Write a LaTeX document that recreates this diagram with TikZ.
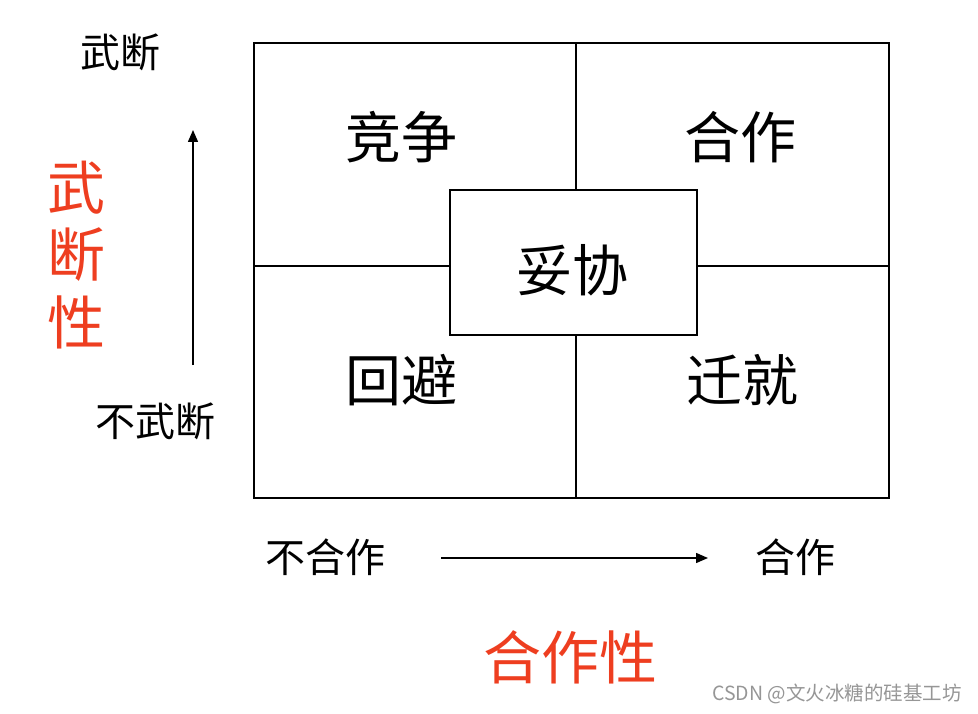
\documentclass[tikz,border=0pt]{standalone}
\usepackage{fontspec}
\newfontfamily\cjk{Noto Sans CJK SC}
\usetikzlibrary{arrows.meta}
\definecolor{redlab}{RGB}{238,62,32}
\definecolor{wm}{RGB}{150,150,150}
\tikzset{
  box/.style={draw=black, line width=1.6pt},
  divline/.style={draw=black, line width=1.4pt},
  big/.style={font=\cjk\fontsize{56}{64}\selectfont, inner sep=0pt},
  side/.style={font=\cjk\fontsize{40}{46}\selectfont, inner sep=0pt},
  redt/.style={font=\cjk\fontsize{58}{64}\selectfont, text=redlab, inner sep=0pt},
  axis/.style={draw=black, line width=1.5pt, -{Triangle[length=12pt,width=10pt]}},
}
\begin{document}
\begin{tikzpicture}[x=1pt,y=-1pt]
\useasboundingbox (0,0) rectangle (978,714);
\fill[white] (0,0) rectangle (978,714);
% outer frame
\draw[box] (254,43) rectangle (889,498);
% center box
\node[box, minimum width=247pt, minimum height=145pt, inner sep=0pt] (ctr) at (573.5,262.5) {};
% dividers
\coordinate (topmid) at (576,43);
\coordinate (botmid) at (576,498);
\coordinate (leftmid) at (254,266);
\coordinate (rightmid) at (889,266);
\draw[divline] (topmid) -- (ctr.north -| topmid);
\draw[divline] (ctr.south -| botmid) -- (botmid);
\draw[divline] (leftmid) -- (ctr.west |- leftmid);
\draw[divline] (ctr.east |- rightmid) -- (rightmid);
% quadrant labels
\node[big] (jz) at (401,137) {竞争};
\node[big] (hz) at (740,137) {合作};
\node[big] (tx) at (572,270) {妥协};
\node[big] (hb) at (401,380) {回避};
\node[big] (qj) at (742,380) {迁就};
% left axis
\node[side] (wd) at (120,52) {武断};
\node[side] (bwd) at (155,421) {不武断};
\coordinate (va) at (193,365);
\coordinate (vb) at (193,130);
\draw[axis] (va) -- (vb);
\node[redt] (r1) at (76,188) {武};
\node[redt] (r2) at (76,255) {断};
\node[redt] (r3) at (76,322) {性};
% bottom axis
\node[side] (bhz) at (325,557) {不合作};
\node[side] (hz2) at (795,557) {合作};
\coordinate (ha) at (441,558);
\coordinate (hb2) at (708,558);
\draw[axis] (ha) -- (hb2);
\node[redt] (hzx) at (570,657) {合作性};
% watermark
\node[font=\cjk\fontsize{19.5}{22}\selectfont, text=wm, inner sep=0pt, anchor=east] (wmk) at (962,694) {CSDN @文火冰糖的硅基工坊};
\end{tikzpicture}
\end{document}
